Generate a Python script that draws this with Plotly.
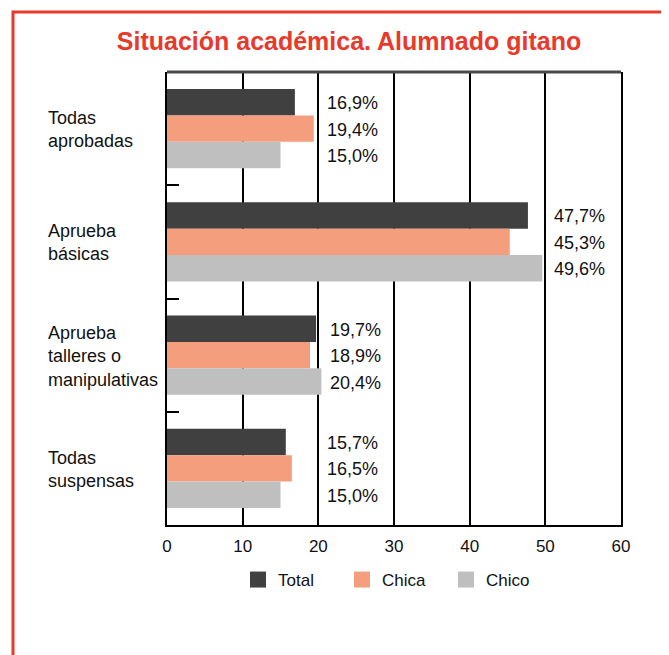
import plotly.graph_objects as go

# ---- data ----
categories = ["Todas aprobadas", "Aprueba básicas", "Aprueba talleres o manipulativas", "Todas suspensas"]
category_labels = ["Todas<br>aprobadas", "Aprueba<br>básicas", "Aprueba<br>talleres o<br>manipulativas", "Todas<br>suspensas"]
series_names = ["Total", "Chica", "Chico"]
total = [16.9, 47.7, 19.7, 15.7]
chica = [19.4, 45.3, 18.9, 16.5]
chico = [15.0, 49.6, 20.4, 15.0]
x_ticks = [0, 10, 20, 30, 40, 50, 60]
title_text = "Situación académica. Alumnado gitano"

# ---- style ----
PAGE_OFF = 8            # default body margin of the html page
W, H = 669 - PAGE_OFF, 655 - PAGE_OFF
L = 167 - PAGE_OFF
T = 72 - PAGE_OFF
R = 669 - 621
B = 655 - 525
plot_w = W - L - R
plot_h = H - T - B
FONT = "Liberation Sans, Arial, Helvetica, sans-serif"
RED = "#e8392b"
colors = ["#404040", "#f59e7d", "#bfbfbf"]
BARGAP = 0.3

def px_x(px):
    return (px - PAGE_OFF - L) / plot_w

def px_y(py):
    return (H - B - (py - PAGE_OFF)) / plot_h

series = [total, chica, chico]

fig = go.Figure()
for name, vals, col in zip(series_names, series, colors):
    fig.add_trace(go.Bar(
        y=categories, x=vals, name=name, orientation="h",
        marker=dict(color=col, line=dict(width=0)),
        showlegend=False, hoverinfo="x+name",
    ))
for name, col in zip(series_names, colors):
    fig.add_trace(go.Scatter(
        x=[None], y=[None], mode="markers", name=name,
        marker=dict(symbol="square", size=16, color=col),
        showlegend=True,
    ))

annotations = []
w = (1 - BARGAP) / len(series)
for i, cat in enumerate(categories):
    group_vals = [s[i] for s in series]
    gmax = max(group_vals)
    anchor_x = max(gmax, round(gmax, -1))
    for j, s in enumerate(series):
        annotations.append(dict(
            x=anchor_x, y=i + (j - 1) * w, xref="x", yref="y",
            text=f"{s[i]:.1f}".replace(".", ",") + "%",
            showarrow=False, xanchor="left", yanchor="middle",
            xshift=7, yshift=-1,
            font=dict(family=FONT, size=18, color="#111111"),
        ))
for i, lab in enumerate(category_labels):
    annotations.append(dict(
        x=px_x(46), y=i, xref="paper", yref="y",
        text=lab, showarrow=False, xanchor="left", yanchor="middle",
        align="left", yshift=-1,
        font=dict(family=FONT, size=18, color="#111111"),
    ))

shapes = [
    dict(type="rect", xref="paper", yref="paper",
         x0=px_x(13), x1=px_x(666), y0=px_y(690), y1=px_y(12),
         line=dict(color=RED, width=3), fillcolor="rgba(0,0,0,0)", layer="below"),
    dict(type="line", xref="paper", yref="paper", x0=0, x1=1, y0=1, y1=1,
         line=dict(color="#4a4a4a", width=3)),
]

fig.update_layout(
    width=W, height=H,
    margin=dict(l=L, r=R, t=T, b=B),
    paper_bgcolor="white", plot_bgcolor="white",
    barmode="group", bargap=BARGAP, bargroupgap=0,
    title=dict(text=f"<b>{title_text}</b>", x=(349 - PAGE_OFF) / W, xref="container", xanchor="center",
               y=1 - (41 - PAGE_OFF) / H, yref="container", yanchor="middle",
               font=dict(family=FONT, size=25, color=RED)),
    xaxis=dict(range=[0, 60], tickvals=x_ticks, ticktext=[str(v) for v in x_ticks],
               showgrid=True, gridcolor="black", gridwidth=1.5,
               showline=True, linecolor="black", linewidth=2, ticks="",
               zeroline=False, ticklabelstandoff=5,
               tickfont=dict(family=FONT, size=17, color="#111111")),
    yaxis=dict(categoryorder="array", categoryarray=categories,
               range=[len(categories) - 0.5, -0.5],
               showticklabels=False, showgrid=False, zeroline=False,
               showline=True, linecolor="black", linewidth=2, mirror=True,
               ticks="inside", tickson="boundaries", ticklen=12,
               tickcolor="black", tickwidth=2),
    legend=dict(orientation="h", x=0.5, xanchor="center",
                y=px_y(580), yanchor="middle",
                entrywidth=59, entrywidthmode="pixels",
                font=dict(family=FONT, size=17, color="#111111"),
                itemsizing="trace", bgcolor="rgba(0,0,0,0)"),
    annotations=annotations,
    shapes=shapes,
)

fig.write_html("out.html")
